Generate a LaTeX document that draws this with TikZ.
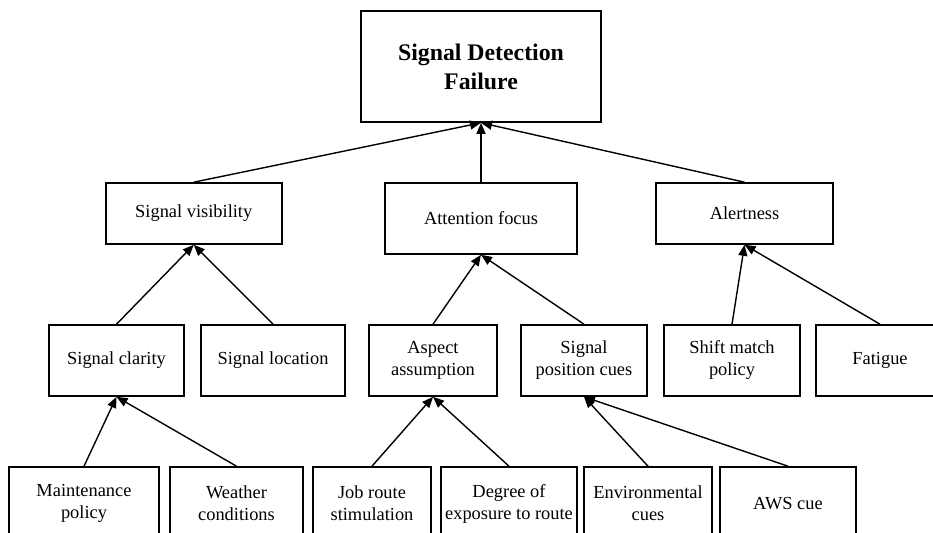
\documentclass[tikz,border=0pt]{standalone}
\usepackage{fontspec}
\setmainfont{Liberation Serif}
\usetikzlibrary{arrows.meta}
\tikzset{
  box/.style={draw, line width=1.6pt, rectangle, inner sep=2pt, align=center,
    font=\fontsize{18.4}{22}\selectfont},
  topbox/.style={box, font=\fontsize{23.8}{29}\selectfont\bfseries},
  link/.style={line width=1.4pt, -{Triangle[length=11pt,width=9pt]}}
}
\begin{document}
\begin{tikzpicture}[x=1pt,y=-1pt]
\useasboundingbox (0,0) rectangle (933,532);
\clip (0,0) rectangle (933,532);
\fill[white] (0,0) rectangle (933,532);
% level 1
\node[topbox, minimum width=240pt, minimum height=111pt] (top) at (481,66.5) {Signal Detection\\Failure};
% level 2
\node[box, minimum width=176pt, minimum height=61pt] (vis) at (193.75,213.5) {Signal visibility};
\node[box, minimum width=192pt, minimum height=71pt] (att) at (481,218.5) {Attention focus};
\node[box, minimum width=177pt, minimum height=61pt] (alert) at (744.5,213.5) {Alertness};
% level 3
\node[box, minimum width=135pt, minimum height=71pt] (clar) at (116.5,360.5) {Signal clarity};
\node[box, minimum width=144pt, minimum height=71pt] (loc) at (273,360.5) {Signal location};
\node[box, minimum width=128pt, minimum height=71pt] (asp) at (433,360.5) {Aspect\\assumption};
\node[box, minimum width=126pt, minimum height=71pt] (pos) at (584,360.5) {Signal\\position cues};
\node[box, minimum width=136pt, minimum height=71pt] (shift) at (732,360.5) {Shift match\\policy};
\node[box, minimum width=128pt, minimum height=71pt] (fat) at (880,360.5) {Fatigue};
% level 4
\node[box, minimum width=150pt, minimum height=73pt] (maint) at (84,503.5) {Maintenance\\policy};
\node[box, minimum width=133pt, minimum height=73pt] (weath) at (236.5,503.5) {Weather\\conditions};
\node[box, minimum width=118pt, minimum height=73pt] (job) at (372,503.5) {Job route\\stimulation};
\node[box, minimum width=136pt, minimum height=73pt] (deg) at (509,503.5) {Degree of\\exposure to route};
\node[box, minimum width=128pt, minimum height=73pt] (env) at (648,503.5) {Environmental\\cues};
\node[box, minimum width=136pt, minimum height=73pt] (aws) at (788,503.5) {AWS cue};
% connectors
\draw[link] (vis.north) -- (top.south);
\draw[link] (att.north) -- (top.south);
\draw[link] (alert.north) -- (top.south);
\draw[link] (clar.north) -- (vis.south);
\draw[link] (loc.north) -- (vis.south);
\draw[link] (asp.north) -- (att.south);
\draw[link] (pos.north) -- (att.south);
\draw[link] (shift.north) -- (alert.south);
\draw[link] (fat.north) -- (alert.south);
\draw[link] (maint.north) -- (clar.south);
\draw[link] (weath.north) -- (clar.south);
\draw[link] (job.north) -- (asp.south);
\draw[link] (deg.north) -- (asp.south);
\draw[link] (env.north) -- (pos.south);
\draw[link] (aws.north) -- (pos.south);
\end{tikzpicture}
\end{document}
